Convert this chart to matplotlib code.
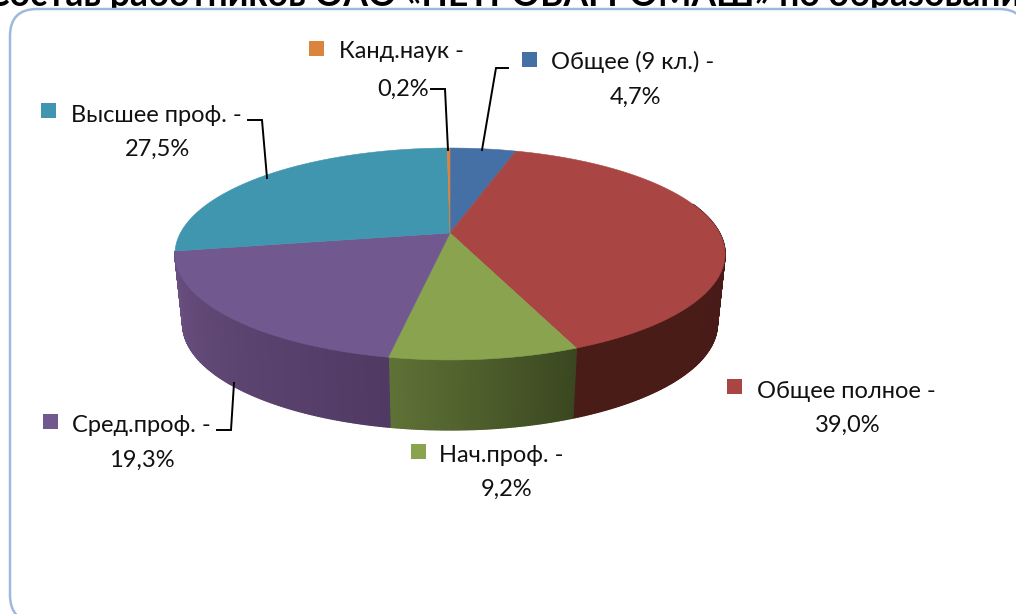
import numpy as np
import matplotlib
matplotlib.use("Agg")
import matplotlib.pyplot as plt
from matplotlib.patches import FancyBboxPatch

categories = ["Общее (9 кл.)", "Общее полное", "Нач.проф.", "Сред.проф.", "Высшее проф.", "Канд.наук"]
values = [4.7, 39.0, 9.2, 19.3, 27.5, 0.2]
value_labels = ["4,7%", "39,0%", "9,2%", "19,3%", "27,5%", "0,2%"]
top_colors = ["#4570a6", "#a94543", "#89a34e", "#71588f", "#4096ae", "#db843d"]
wall_left = ["#3a5d8a", "#4a1c18", "#5f7236", "#6a5080", "#35788c", "#a86530"]
wall_right = ["#3a5d8a", "#451a17", "#3a4720", "#503a63", "#35788c", "#a86530"]
title = "Состав работников ОАО «ПЕТРОВАГРОМАШ» по образованию"

W, H = 1016, 614
plt.rcParams["font.family"] = ["Lato", "DejaVu Sans"]
fig = plt.figure(figsize=(W / 100, H / 100), dpi=100)
ax = fig.add_axes([0, 0, 1, 1])
ax.set_xlim(0, W)
ax.set_ylim(H, 0)
ax.axis("off")

ax.text(-14, 6, title, ha="left", va="baseline", fontsize=25.6,
        fontweight="bold", color="black", zorder=0)
R = 27
ax.add_patch(FancyBboxPatch((10 + R, 9 + R), 1026 - 10 - 2 * R, 622 - 9 - 2 * R,
                            boxstyle=f"round,pad={R},rounding_size={R}",
                            fc="white", ec="#9db9dc", lw=1.8, zorder=1))

K = 0.198
B = 101.8
CX = 450


def project(theta, cy, A):
    x, y = np.sin(theta), np.cos(theta)
    d = 1 + K * y
    return CX + A * x / d, cy - B * y / d


TOP_Y, TOP_A = 233, 269.6
BOT_Y, BOT_A = 303, 262.0


def lerp(c1, c2, f):
    a = np.array(matplotlib.colors.to_rgb(c1))
    b = np.array(matplotlib.colors.to_rgb(c2))
    return tuple(a + (b - a) * f)


edges = np.concatenate([[0], np.cumsum(values)]) / sum(values) * 2 * np.pi

# visible side wall: only the slices that reach the front of the disc
for i in [1, 2, 3]:
    ts = np.linspace(edges[i], edges[i + 1], int((edges[i + 1] - edges[i]) * 150))
    for j in range(len(ts) - 1):
        seg = ts[j:j + 2]
        if np.cos(seg.mean()) > 0.3:
            continue
        xt, yt = project(seg, TOP_Y, TOP_A)
        xb, yb = project(seg, BOT_Y, BOT_A)
        f = 1 - (j / max(1, len(ts) - 2))
        col = lerp(wall_left[i], wall_right[i], f)
        ax.fill(np.r_[xt, xb[::-1]], np.r_[yt, yb[::-1]], fc=col, ec=col, lw=1.0, zorder=2)

for i in range(len(values)):
    ts = np.linspace(edges[i], edges[i + 1], 200)
    xt, yt = project(ts, TOP_Y, TOP_A)
    ax.fill(np.r_[CX, xt], np.r_[TOP_Y, yt], fc=top_colors[i], ec=top_colors[i], lw=0.4, zorder=3)

# key, first-line and second-line anchors, per category
keys = [(522, 52), (727, 379), (411, 444), (43, 414), (41, 103), (309, 41)]
line1 = [(551, 62), (757, 391), (439, 455), (72, 426), (71, 115), (339, 52)]
line2 = [(635, 97), (848, 425), (507, 489), (142, 460), (158, 149), (403, 89)]
leaders = {
    0: [(508, 68), (496, 68), (482, 150)],
    3: [(217, 430), (231, 430), (234, 383)],
    4: [(248, 120), (262, 120), (267, 178)],
    5: [(431, 89), (445, 89), (448, 150)],
}
FS = 17
for i, name in enumerate(categories):
    kx, ky = keys[i]
    ax.fill([kx, kx + 15, kx + 15, kx], [ky, ky, ky + 15, ky + 15], fc=top_colors[i], ec="none", zorder=5)
    ax.text(*line1[i], name + " -", ha="left", va="center", fontsize=FS, color="#111111", zorder=6)
    ax.text(*line2[i], value_labels[i], ha="center", va="center", fontsize=FS, color="#111111", zorder=6)
for pts in leaders.values():
    xs, ys = zip(*pts)
    ax.plot(xs, ys, color="black", lw=1.4, zorder=4, solid_joinstyle="miter")

fig.savefig("out.png", dpi=100)
